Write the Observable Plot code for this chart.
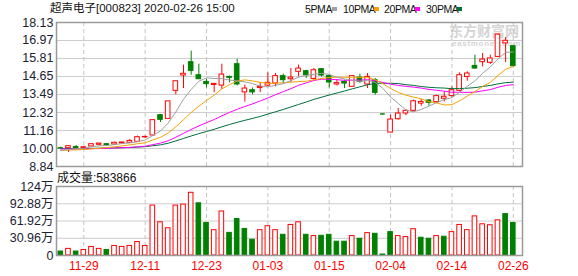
<!DOCTYPE html>
<html><head><meta charset="utf-8">
<script src="https://cdn.jsdelivr.net/npm/d3@7"></script>
<script src="https://cdn.jsdelivr.net/npm/@observablehq/plot@0.6"></script>
<style>
body{margin:0;background:#fff;}
#wrap{position:relative;width:578px;height:276px;overflow:hidden;font-family:"Liberation Sans","Noto Sans CJK SC",sans-serif;color:#111;}
.t{position:absolute;white-space:nowrap;line-height:1;}
.sq{position:absolute;width:5px;height:4px;}
#top,#vol{position:absolute;left:0;z-index:1;}
#top{top:0;} #vol{top:170px;}
.wm{position:absolute;white-space:nowrap;line-height:1;color:#d4d4d4;z-index:0;}
</style></head><body>
<div id="wrap">
  <div class="wm" style="left:449px;top:23px;font-size:14px;height:14px;font-weight:bold;font-family:'Noto Sans CJK SC';">东方财富网</div>
  <div class="wm" style="left:452px;top:40px;font-size:8px;font-weight:bold;letter-spacing:0.7px;">eastmoney.com</div>
  <div id="title" class="t" style="left:50px;top:3px;font-size:11.5px;"></div>
  <div id="legend"></div>
  <div id="volcap" class="t" style="left:57px;top:172px;font-size:12px;"></div>
  <div id="top"></div>
  <div id="vol"></div>
</div>
<script>
const stockName = "超声电子";
const stockCode = "000823";
const stamp = "2020-02-26 15:00";

const dates = ["11-26","11-27","11-28","11-29","12-02","12-03","12-04","12-05","12-06","12-09",
"12-10","12-11","12-12","12-13","12-16","12-17","12-18","12-19","12-20","12-23",
"12-24","12-25","12-26","12-27","12-30","12-31","01-02","01-03","01-06","01-07",
"01-08","01-09","01-10","01-13","01-14","01-15","01-16","01-17","01-20","01-21",
"01-22","01-23","02-03","02-04","02-05","02-06","02-07","02-10","02-11","02-12",
"02-13","02-14","02-17","02-18","02-19","02-20","02-21","02-24","02-25","02-26"];

const open = [10.02,10.02,10.10,10.02,10.13,10.24,10.28,10.26,10.33,10.37,
10.43,10.72,10.84,12.15,11.91,13.72,14.71,15.57,14.73,14.30,
14.10,14.06,14.62,15.44,13.62,13.76,13.91,14.06,14.19,14.67,
14.47,14.95,14.99,14.49,15.12,14.67,14.13,14.30,13.98,14.58,
14.13,14.41,12.23,11.03,11.89,12.26,12.43,12.90,13.10,12.99,
13.21,13.38,13.72,14.62,15.33,15.57,15.53,15.91,16.78,16.60];
const high = [10.08,10.16,10.19,10.15,10.30,10.33,10.30,10.41,10.40,10.58,
10.80,10.80,11.83,12.19,13.04,14.34,15.38,16.28,15.44,14.45,
14.17,15.44,14.67,15.76,14.09,13.91,14.24,14.88,14.84,14.80,
15.16,15.38,15.05,15.16,15.16,14.73,14.45,14.41,14.70,14.80,
14.84,14.52,12.23,12.15,12.58,12.52,13.12,13.16,13.16,13.44,
13.66,13.98,14.88,14.95,16.02,16.13,16.02,17.39,17.16,16.64];
const low = [9.96,9.74,9.98,10.00,10.10,10.15,10.13,10.21,10.30,10.32,
10.40,10.64,10.80,11.68,11.90,13.46,13.87,14.73,14.45,13.91,
13.60,13.81,14.24,14.04,12.99,13.46,13.61,13.98,13.98,14.19,
14.26,14.62,14.52,14.41,14.62,13.91,14.04,13.87,13.98,14.19,
13.87,13.44,12.23,11.03,11.83,12.11,12.37,12.73,12.73,12.90,
13.01,13.27,13.66,14.34,15.12,15.27,15.42,15.87,15.55,15.31];
const close = [9.99,10.15,10.03,10.08,10.28,10.32,10.22,10.37,10.39,10.49,
10.73,10.75,11.83,11.85,13.04,14.34,14.82,15.01,14.47,14.15,
14.17,14.77,14.56,14.13,13.87,13.62,13.98,14.24,14.67,14.41,
14.58,15.16,14.73,15.05,14.71,14.26,14.22,14.19,14.67,14.30,
14.62,13.59,12.23,11.87,12.26,12.43,13.05,13.01,12.95,13.38,
13.34,13.76,14.73,14.84,15.16,15.74,15.81,17.35,16.95,15.31];
const closeBefore = 10.02;

const volume = [71000,119000,71000,100000,154000,119000,100000,172000,154000,172000,
242000,172000,897000,597000,490000,897000,915000,1127000,938000,584000,
455000,791000,407000,655000,478000,284000,455000,526000,455000,372000,
549000,597000,372000,349000,354000,372000,248000,248000,349000,301000,
402000,390000,18000,420000,349000,331000,473000,319000,301000,349000,
337000,420000,549000,455000,703000,561000,544000,632000,744000,583866];

const ma5 = [9.88,9.94,9.98,10.02,10.11,10.17,10.19,10.25,10.32,10.36,
10.44,10.55,10.84,11.13,11.64,12.36,13.18,13.81,14.34,14.56,
14.52,14.51,14.42,14.36,14.30,14.19,14.03,13.97,14.08,14.18,
14.38,14.61,14.71,14.79,14.85,14.78,14.59,14.49,14.41,14.33,
14.40,14.27,13.88,13.32,12.91,12.48,12.37,12.52,12.74,12.96,
13.15,13.29,13.63,14.01,14.37,14.85,15.26,15.78,16.20,16.23];
const ma10 = [9.87,9.90,9.91,9.94,9.98,10.02,10.06,10.11,10.17,10.23,
10.31,10.37,10.55,10.72,11.00,11.40,11.86,12.33,12.73,13.10,
13.44,13.85,14.12,14.35,14.43,14.36,14.27,14.20,14.22,14.24,
14.28,14.32,14.34,14.43,14.52,14.58,14.60,14.60,14.60,14.59,
14.59,14.43,14.18,13.87,13.62,13.44,13.32,13.20,13.03,12.94,
12.81,12.83,13.08,13.38,13.67,14.00,14.27,14.71,15.11,15.30];
const ma20 = [9.97,9.97,9.97,9.98,9.99,10.00,10.01,10.03,10.05,10.07,
10.11,10.15,10.25,10.35,10.50,10.73,10.98,11.23,11.46,11.67,
11.87,12.11,12.33,12.53,12.71,12.88,13.07,13.26,13.47,13.67,
13.86,14.08,14.23,14.39,14.47,14.47,14.44,14.40,14.41,14.41,
14.44,14.38,14.26,14.15,14.07,14.01,13.96,13.90,13.81,13.76,
13.70,13.63,13.63,13.62,13.64,13.72,13.80,13.95,14.07,14.12];
const ma30 = [9.99,10.00,10.00,10.00,10.01,10.02,10.03,10.04,10.05,10.07,
10.09,10.12,10.18,10.24,10.34,10.49,10.65,10.81,10.96,11.10,
11.24,11.40,11.55,11.69,11.82,11.94,12.07,12.22,12.37,12.52,
12.68,12.84,13.00,13.17,13.31,13.45,13.58,13.71,13.85,13.98,
14.11,14.20,14.21,14.21,14.19,14.12,14.07,14.00,13.95,13.92,
13.90,13.86,13.87,13.89,13.93,14.00,14.07,14.17,14.25,14.28];

const priceTicks = [8.84,10.00,11.16,12.32,13.49,14.65,15.81,16.97,18.13];
const volTicks = [0,309600,619200,928800,1240000];
const xTickLabels = ["11-29","12-11","12-23","01-03","01-15","02-04","02-14","02-26"];
const maNames = ["5PMA","10PMA","20PMA","30PMA"];

const RED = "#ff0000", GREEN = "#008000";
const maColors = ["#a0a0a0","#f5a300","#ff00ff","#00703c"];
const FONT = "Liberation Sans, Noto Sans CJK SC, sans-serif";

const rows = dates.map((d, i) => ({
  i, date: d, o: open[i], h: high[i], l: low[i], c: close[i], v: volume[i],
  prev: i ? close[i - 1] : closeBefore
}));
rows.forEach(r => {
  r.candleUp = r.c > r.o || (r.c === r.o && r.c >= r.prev);
  r.volUp = r.c >= r.prev;
});
const upC = rows.filter(r => r.candleUp), dnC = rows.filter(r => !r.candleUp);
const flat = rows.filter(r => r.o === r.c);
const upV = rows.filter(r => r.volUp), dnV = rows.filter(r => !r.volUp);
const xTicks = xTickLabels.map(l => dates.indexOf(l));
const xDomain = [-0.56, 60.2];
const hw = 0.3;

// header
document.getElementById("title").textContent = `${stockName}[${stockCode}] ${stamp}`;
const legendPos = [305, 343, 384, 426];
const lg = document.getElementById("legend");
maNames.forEach((n, k) => {
  const t = document.createElement("div");
  t.className = "t";
  t.style.cssText = `left:${legendPos[k]}px;top:4px;font-size:10.5px;letter-spacing:-0.4px;`;
  t.textContent = n;
  lg.appendChild(t);
  const s = document.createElement("div");
  s.className = "sq";
  s.style.cssText = `left:${legendPos[k] + (n.length === 4 ? 27 : 31)}px;top:7px;background:${maColors[k]};`;
  lg.appendChild(s);
});
document.getElementById("volcap").textContent = "成交量:" + volume[volume.length - 1];

const gridH = {stroke: "#cccccc", strokeOpacity: 1, strokeWidth: 1};
const gridV = {stroke: "#c4c4c4", strokeOpacity: 1, strokeWidth: 1, strokeDasharray: "4,3"};
const frame = Plot.frame({stroke: "#9a9a9a", strokeWidth: 1.5});

const topChart = Plot.plot({
  width: 578, height: 170,
  marginLeft: 56, marginRight: 56, marginTop: 22, marginBottom: 4,
  style: {fontFamily: FONT, fontSize: "12.5px", background: "transparent", overflow: "visible"},
  x: {domain: xDomain, axis: null},
  y: {domain: [8.84, 18.13], axis: null, label: null},
  marks: [
    Plot.gridY(priceTicks, gridH),
    Plot.gridX(xTicks, gridV),
    Plot.ruleX(upC, {x: "i", y1: "l", y2: "h", stroke: RED, strokeWidth: 1}),
    Plot.ruleX(dnC, {x: "i", y1: "l", y2: "h", stroke: GREEN, strokeWidth: 1}),
    Plot.rect(upC.filter(r => r.o !== r.c), {x1: d => d.i - hw, x2: d => d.i + hw, y1: "o", y2: "c", fill: "white", stroke: RED, strokeWidth: 1}),
    Plot.rect(dnC.filter(r => r.o !== r.c), {x1: d => d.i - hw, x2: d => d.i + hw, y1: "o", y2: "c", fill: GREEN, stroke: GREEN, strokeWidth: 1}),
    Plot.ruleY(flat, {y: "c", x1: d => d.i - hw, x2: d => d.i + hw, stroke: d => d.candleUp ? RED : GREEN, strokeWidth: 1.5}),
    Plot.lineY(ma30, {stroke: maColors[3], strokeWidth: 1}),
    Plot.lineY(ma20, {stroke: maColors[2], strokeWidth: 1}),
    Plot.lineY(ma10, {stroke: maColors[1], strokeWidth: 1}),
    Plot.lineY(ma5, {stroke: maColors[0], strokeWidth: 1}),
    Plot.axisY(priceTicks, {tickSize: 0, tickPadding: 3, tickFormat: d => d.toFixed(2), fill: "#1c2233", fontSize: 12.5, label: null}),
    frame
  ]
});
document.getElementById("top").appendChild(topChart);

const volFmt = v => v === 0 ? "0" : String(+(v / 1e4).toFixed(2)) + "万";
const volChart = Plot.plot({
  width: 578, height: 106,
  marginLeft: 56, marginRight: 56, marginTop: 16, marginBottom: 21,
  style: {fontFamily: FONT, fontSize: "12.5px", background: "transparent", overflow: "visible"},
  x: {domain: xDomain, axis: null, label: null},
  y: {domain: [0, 1240000], axis: null, label: null},
  marks: [
    Plot.gridY(volTicks.slice(1, -1), gridH),
    Plot.gridX(xTicks, gridV),
    Plot.rect(upV, {x1: d => d.i - hw, x2: d => d.i + hw, y1: 0, y2: "v", fill: "white", stroke: RED, strokeWidth: 1}),
    Plot.rect(dnV, {x1: d => d.i - hw, x2: d => d.i + hw, y1: 0, y2: "v", fill: GREEN, stroke: GREEN, strokeWidth: 1}),
    Plot.axisY(volTicks, {tickSize: 0, tickPadding: 3, tickFormat: volFmt, fill: "#1c2233", fontSize: 12.5, label: null}),
    Plot.axisX(xTicks, {tickSize: 0, tickPadding: 6, tickFormat: d => dates[d], fill: RED, fontSize: 12, label: null}),
    frame
  ]
});
document.getElementById("vol").appendChild(volChart);
</script>
</body></html>
